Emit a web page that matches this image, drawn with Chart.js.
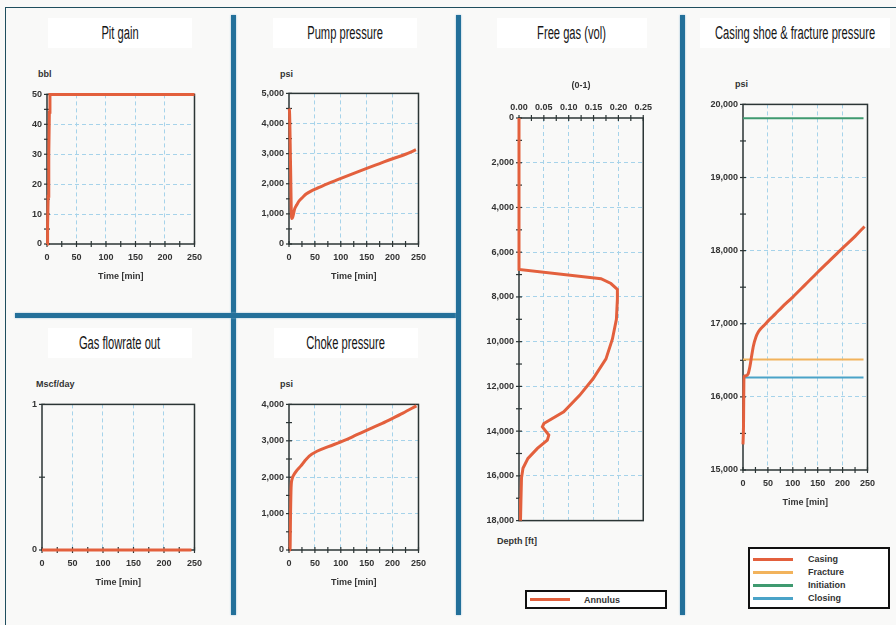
<!DOCTYPE html>
<html lang="en">
<head>
<meta charset="UTF-8">
<title>Kick simulation panels</title>
<script src="https://cdn.jsdelivr.net/npm/chart.js"></script>
<style>
  body { margin: 0; background: #f9f9f8; }
  #page { position: relative; width: 896px; height: 625px; overflow: hidden;
          font-family: "Liberation Sans", Arial, sans-serif; }
  #page canvas { position: absolute; }
  .frame { position: absolute; left: 5px; top: 7px; width: 900px; height: 640px;
           border-top: 1.5px solid #1f4e5e; border-left: 1.5px solid #1f4e5e; }
  .sep { position: absolute; background: #23709a; box-shadow: 0 0 2px #8ab8d2; }
  .title { position: absolute; height: 30px; background: #fff; display: flex;
           justify-content: center; align-items: center; }
  .title span { display: block; font-size: 18px; transform: scaleX(0.62); color: #151515; white-space: nowrap; flex: none; }
  .unit { position: absolute; font-size: 9px; font-weight: bold; color: #333; line-height: 10px; }
  .legend { position: absolute; border: 2px solid #111; background: #fff; box-sizing: border-box; }
  .lrow { position: absolute; left: 3px; height: 12px; display: flex; align-items: center;
          font-size: 9px; font-weight: bold; color: #333; }
  .lrow i { display: block; width: 40px; height: 3px; }
</style>
</head>
<body>
<div id="page">
  <div class="frame"></div>
  <div class="sep" style="left:231px;top:15px;width:5px;height:600px"></div>
  <div class="sep" style="left:15px;top:313px;width:441px;height:5px"></div>
  <div class="sep" style="left:456px;top:15px;width:5px;height:600px"></div>
  <div class="sep" style="left:680px;top:15px;width:5px;height:600px"></div>

  <div class="title" style="left:48px;top:18px;width:144px"><span>Pit gain</span></div>
  <div class="title" style="left:273px;top:18px;width:144px"><span>Pump pressure</span></div>
  <div class="title" style="left:48px;top:328px;width:144px"><span>Gas flowrate out</span></div>
  <div class="title" style="left:274px;top:328px;width:144px"><span>Choke pressure</span></div>
  <div class="title" style="left:497px;top:18px;width:150px"><span>Free gas (vol)</span></div>
  <div class="title" style="left:700px;top:18px;width:190px"><span>Casing shoe &amp; fracture pressure</span></div>

  <div class="unit" style="left:38px;top:69px">bbl</div>
  <div class="unit" style="left:280px;top:69px">psi</div>
  <div class="unit" style="left:36px;top:379px">Mscf/day</div>
  <div class="unit" style="left:280px;top:379px">psi</div>
  <div class="unit" style="left:497px;top:536px">Depth [ft]</div>
  <div class="unit" style="left:735px;top:79px">psi</div>

  <canvas id="pit"></canvas>
  <canvas id="pump"></canvas>
  <canvas id="gas"></canvas>
  <canvas id="choke"></canvas>
  <canvas id="freegas"></canvas>
  <canvas id="casing"></canvas>

  <div class="legend" id="legFree" style="left:525px;top:590px;width:142px;height:19px"></div>
  <div class="legend" id="legCasing" style="left:748px;top:547px;width:142px;height:62px"></div>
</div>

<script>
// ---- data ----
const timeLabels = [0, 50, 100, 150, 200, 250];

const pitTime = [0, 1, 2, 3, 4, 5, 250];
const pitGain = [0, 6, 16, 30, 44, 50, 50];

const pumpTime = [0, 1, 3, 5, 7, 11, 15, 20, 27, 33, 45, 57, 75, 94, 125, 150, 175, 200, 225, 245];
const pumpPressure = [4500, 4400, 2600, 850, 880, 1170, 1300, 1440, 1560, 1660, 1780, 1870, 2005, 2135, 2345, 2510, 2670, 2830, 2980, 3130];

const gasTime = [0, 245];
const gasRate = [0, 0];

const chokeTime = [1, 2, 3, 4, 6, 10, 16, 23, 30, 39, 55, 76, 107, 130, 156, 180, 199, 220, 246];
const chokePressure = [0, 0, 1000, 1700, 1950, 2080, 2200, 2310, 2440, 2580, 2720, 2840, 3010, 3160, 3330, 3480, 3610, 3760, 3960];

const depthFt = [0, 6770, 7185, 7400, 7660, 8100, 9000, 9880, 10770, 11660, 12400, 13140, 13660, 13810, 14180, 14400, 14770, 15220, 15660, 16100, 17000, 18000];
const annulusGas = [0, 0, 0.165, 0.185, 0.198, 0.198, 0.196, 0.188, 0.175, 0.149, 0.122, 0.090, 0.050, 0.047, 0.060, 0.057, 0.037, 0.018, 0.008, 0.005, 0.004, 0.003];
const gasLabels = [0, 0.05, 0.10, 0.15, 0.20, 0.25];
const depthLabels = [0, 2000, 4000, 6000, 8000, 10000, 12000, 14000, 16000, 18000];

const casingTime = [0, 1, 2, 6, 10, 14, 17, 21, 26, 31, 36, 44, 52, 65, 78, 100, 125, 150, 175, 200, 225, 244];
const casingPressure = [15350, 15600, 16280, 16290, 16310, 16420, 16545, 16700, 16820, 16890, 16935, 16990, 17050, 17135, 17225, 17365, 17535, 17705, 17870, 18035, 18195, 18330];
const limitTime = [0, 242];
const fracturePressure = [16510, 16510];
const initiationPressure = [19810, 19810];
const closingPressure = [16265, 16265];

// ---- styling ----
const RED = '#e3603d', ORANGE = '#f2b35c', GREEN = '#3f9a70', BLUE = '#4aa3c8';
const GRID = '#a6d3ea';
Chart.defaults.font.family = "'Liberation Sans', Arial, sans-serif";
Chart.defaults.animation = false;

const pts = (xs, ys) => xs.map((x, i) => ({x, y: ys[i]}));
const near = (a, b) => Math.abs(a - b) < 1e-9;

// box round the plot and small ticks across the axis lines
const framePlugin = {
  id: 'frameTicks',
  beforeDatasetsDraw(chart) {
    const {ctx, chartArea: a} = chart;
    ctx.save();
    ctx.strokeStyle = '#2b3535';
    ctx.lineWidth = 1.5;
    ctx.strokeRect(a.left, a.top, a.width, a.height);
    ctx.lineWidth = 1.2;
    Object.values(chart.scales).forEach(s => {
      s.ticks.forEach(t => {
        const p = s.getPixelForValue(t.value);
        ctx.beginPath();
        if (s.isHorizontal()) {
          const y = s.position === 'top' ? a.top : a.bottom;
          ctx.moveTo(p, y - 3); ctx.lineTo(p, y + 3);
        } else {
          ctx.moveTo(a.left - 3, p); ctx.lineTo(a.left + 3, p);
        }
        ctx.stroke();
      });
    });
    ctx.restore();
  }
};

function axis(o) {
  const {min, max, step, labels, fmt, size, horizontal, noGrid, reverse, position, title} = o;
  return {
    type: 'linear', min, max, reverse: !!reverse, position,
    afterBuildTicks: s => {
      const t = [];
      for (let v = min; v <= max + 1e-9; v += step) t.push({value: +v.toFixed(6)});
      s.ticks = t;
    },
    afterFit: s => { if (horizontal) s.height = size; else s.width = size; },
    ticks: {
      autoSkip: false, maxRotation: 0, padding: horizontal ? (position === 'top' ? 5 : 8) : 5,
      color: '#333', font: {size: 9, weight: 'bold'},
      callback: v => labels.some(m => near(m, v)) ? fmt(v) : ''
    },
    grid: {
      drawTicks: false, lineWidth: 1,
      color: c => (!noGrid && c.tick && labels.some(m => near(m, c.tick.value)) &&
                   !near(c.tick.value, min) && !near(c.tick.value, max)) ? GRID : 'transparent'
    },
    border: {display: false, dash: [4, 3]},
    title: title ? {display: true, text: title, color: '#333', font: {size: 9, weight: 'bold'}, padding: 0}
                 : {display: false}
  };
}

const comma = v => v.toLocaleString('en-US');
const timeAxis = () => axis({min: 0, max: 250, step: 25, labels: timeLabels, fmt: v => String(v),
                             size: 38, horizontal: true, position: 'bottom', title: 'Time [min]'});

function panel(id, plot, datasets, scales, topAxis) {
  const yW = 50, padR = 10, topH = topAxis ? 38 : 8, botH = topAxis ? 8 : 38;
  const cv = document.getElementById(id);
  cv.width = plot.r - plot.l + yW + padR;
  cv.height = plot.b - plot.t + topH + botH;
  cv.style.left = (plot.l - yW) + 'px';
  cv.style.top = (plot.t - topH) + 'px';
  return new Chart(cv, {
    type: 'scatter',
    data: {datasets: datasets.map(d => Object.assign({
      showLine: true, pointRadius: 0, borderWidth: 3, borderColor: RED, backgroundColor: RED,
      clip: 8, tension: 0, cubicInterpolationMode: 'monotone'
    }, d))},
    options: {
      responsive: false, devicePixelRatio: 1,
      layout: {padding: {left: 0, right: padR, top: topAxis ? 0 : topH, bottom: topAxis ? botH : 0}},
      plugins: {legend: {display: false}, tooltip: {enabled: false}},
      scales
    },
    plugins: [framePlugin]
  });
}

panel('pit', {l: 47, t: 92, r: 200, b: 244},
  [{label: 'Pit gain', data: pts(pitTime, pitGain), cubicInterpolationMode: 'default'}],
  {x: timeAxis(),
   y: axis({min: 0, max: 50, step: 5, labels: [0, 10, 20, 30, 40, 50], fmt: String, size: 50})});

panel('pump', {l: 289, t: 91, r: 424, b: 244},
  [{label: 'Pump pressure', data: pts(pumpTime, pumpPressure)}],
  {x: timeAxis(),
   y: axis({min: 0, max: 5000, step: 500, labels: [0, 1000, 2000, 3000, 4000, 5000], fmt: comma, size: 50})});

panel('gas', {l: 42, t: 402, r: 200, b: 550},
  [{label: 'Gas flowrate out', data: pts(gasTime, gasRate)}],
  {x: timeAxis(),
   y: axis({min: 0, max: 1, step: 0.5, labels: [0, 1], fmt: String, size: 50, noGrid: true})});

panel('choke', {l: 289, t: 402, r: 424, b: 550},
  [{label: 'Choke pressure', data: pts(chokeTime, chokePressure)}],
  {x: timeAxis(),
   y: axis({min: 0, max: 4000, step: 500, labels: [0, 1000, 2000, 3000, 4000], fmt: comma, size: 50})});

const free = panel('freegas', {l: 519, t: 118, r: 647, b: 523},
  [{label: 'Annulus', data: pts(annulusGas, depthFt), cubicInterpolationMode: 'default'}],
  {x: axis({min: 0, max: 0.25, step: 0.025, labels: gasLabels, fmt: v => v.toFixed(2),
            size: 38, horizontal: true, position: 'top', title: '(0-1)'}),
   y: axis({min: 0, max: 18000, step: 1000, labels: depthLabels, fmt: comma, size: 50, reverse: true})},
  true);

const casing = panel('casing', {l: 743, t: 102, r: 873, b: 470},
  [{label: 'Casing', data: pts(casingTime, casingPressure)},
   {label: 'Fracture', data: pts(limitTime, fracturePressure), borderColor: ORANGE, borderWidth: 2},
   {label: 'Initiation', data: pts(limitTime, initiationPressure), borderColor: GREEN, borderWidth: 2},
   {label: 'Closing', data: pts(limitTime, closingPressure), borderColor: BLUE, borderWidth: 2}],
  {x: timeAxis(),
   y: axis({min: 15000, max: 20000, step: 500, labels: [15000, 16000, 17000, 18000, 19000, 20000], fmt: comma, size: 50})});

function htmlLegend(chart, el, first, gap, textGap) {
  chart.data.datasets.forEach((ds, i) => {
    const row = document.createElement('div');
    row.className = 'lrow';
    row.style.top = (first + i * gap) + 'px';
    row.innerHTML = '<i style="background:' + ds.borderColor + '"></i><span style="margin-left:' + textGap + 'px">' + ds.label + '</span>';
    el.appendChild(row);
  });
}
htmlLegend(free, document.getElementById('legFree'), 1.5, 0, 14);
htmlLegend(casing, document.getElementById('legCasing'), 4, 13, 15);
</script>
</body>
</html>
